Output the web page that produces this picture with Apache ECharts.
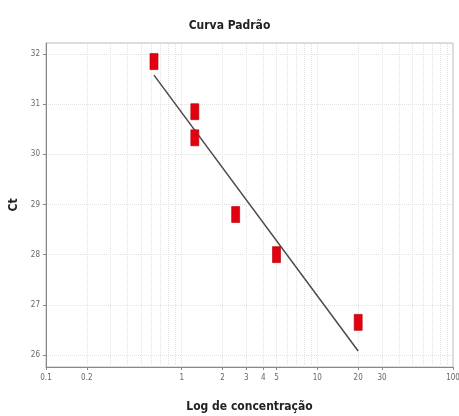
<!DOCTYPE html>
<html><head><meta charset="utf-8">
<script src="https://cdn.jsdelivr.net/npm/echarts@6/dist/echarts.min.js"></script>
<style>html,body{margin:0;padding:0;background:#fff}#c{width:459px;height:416px}</style>
</head><body><div id="c"></div>
<script>
// Data
const conc = [0.625, 1.25, 1.25, 2.5, 5, 20];
const ct = [31.85, 30.85, 30.33, 28.8, 28.0, 26.65];
const fitConc = [0.625, 20];
const fitCt = [31.58, 26.08];
const xTickLabels = [0.1, 0.2, 1, 2, 3, 4, 5, 10, 20, 30, 100];
const yTickLabels = [26, 27, 28, 29, 30, 31, 32];
const xGridValues = [0.2,0.3,0.4,0.5,0.6,0.7,0.8,0.9,1,2,3,4,5,6,7,8,9,10,20,30,40,50,60,70,80,90];
const yGridValues = [26, 27, 28, 29, 30, 31, 32];

const FONT = "'DejaVu Sans Condensed', 'Liberation Sans Narrow', 'Liberation Sans', sans-serif";
const chart = echarts.init(document.getElementById('c'), null, {renderer: 'canvas'});
const gridLines = xGridValues.map(v => ({xAxis: v}))
  .concat(yGridValues.map(v => ({yAxis: v})));
chart.setOption({
  animation: false,
  backgroundColor: '#fff',
  title: {
    text: 'Curva Padrão', left: 'center', top: 15,
    textStyle: {fontFamily: FONT, fontSize: 12, fontWeight: 'bold', color: '#222'}
  },
  grid: {left: 46, right: 6, top: 43, bottom: 49, show: true, borderColor: '#bbb', borderWidth: 1,
    outerBoundsMode: 'none', containLabel: false},
  xAxis: {
    type: 'log', logBase: 10, min: 0.1, max: 100,
    name: 'Log de concentração', nameLocation: 'middle', nameGap: 34,
    nameTextStyle: {fontFamily: FONT, fontSize: 12, fontWeight: 'bold', color: '#222'},
    axisLine: {show: true, lineStyle: {color: '#888'}},
    axisTick: {show: true, length: 3, customValues: xTickLabels, lineStyle: {color: '#888'}},
    axisLabel: {customValues: xTickLabels, fontFamily: FONT, fontSize: 8, color: '#666', margin: 7,
      formatter: v => String(+v.toPrecision(3))},
    splitLine: {show: false}
  },
  yAxis: {
    type: 'value', min: 25.76, max: 32.22,
    name: 'Ct', nameLocation: 'middle', nameGap: 26, nameRotate: 90,
    nameTextStyle: {fontFamily: FONT, fontSize: 12, fontWeight: 'bold', color: '#222'},
    axisLine: {show: true, lineStyle: {color: '#888'}},
    axisTick: {show: true, length: 3, customValues: yTickLabels, lineStyle: {color: '#888'}},
    axisLabel: {customValues: yTickLabels, fontFamily: FONT, fontSize: 8, color: '#666', margin: 6},
    splitLine: {show: false}
  },
  series: [
    {
      type: 'line', data: [], silent: true, z: 0,
      markLine: {
        silent: true, symbol: 'none', label: {show: false}, z: 0,
        lineStyle: {color: '#e2e2e2', type: 'dotted', width: 1},
        data: gridLines
      }
    },
    {
      type: 'line', data: fitConc.map((x, i) => [x, fitCt[i]]),
      showSymbol: false, symbol: 'none', zlevel: 1,
      lineStyle: {color: '#4a4a4a', width: 1.5}
    },
    {
      type: 'scatter', data: conc.map((x, i) => [x, ct[i]]),
      symbol: 'rect', symbolSize: [8, 16], zlevel: 2,
      itemStyle: {color: '#e3000f', opacity: 1, borderColor: '#b4000c', borderWidth: 0.6}
    }
  ]
});
</script>
</body></html>
